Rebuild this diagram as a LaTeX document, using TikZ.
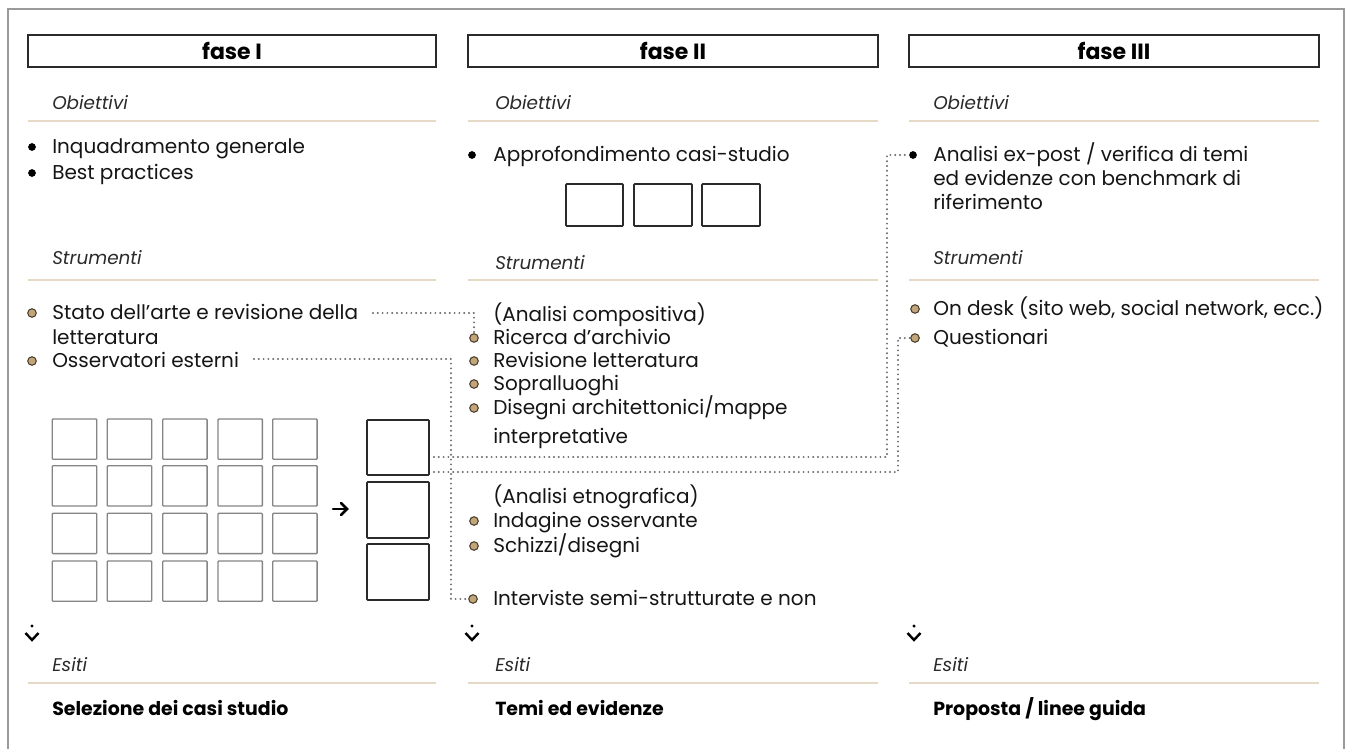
\documentclass[tikz,border=0pt]{standalone}
\usepackage{fontspec}
\setmainfont{Poppins}
\usetikzlibrary{arrows.meta,calc}
\definecolor{textc}{HTML}{151515}
\definecolor{labc}{HTML}{2A2A2A}
\definecolor{rulec}{HTML}{E6DAC6}
\definecolor{framec}{HTML}{9A9A9A}
\definecolor{tanfill}{HTML}{C2A57A}
\definecolor{tanline}{HTML}{4A3C2A}
\definecolor{gridc}{HTML}{858585}
\definecolor{dotcol}{HTML}{6A6A6A}
\tikzset{
  txt/.style={anchor=base west, inner sep=0pt, text=textc, font=\fontsize{15}{18}\selectfont},
  lab/.style={anchor=base west, inner sep=0pt, text=labc, font=\fontsize{13.8}{16}\selectfont\itshape},
  res/.style={anchor=base west, inner sep=0pt, text=black, font=\fontsize{14.2}{16}\selectfont\bfseries},
  headbox/.style={draw=labc, line width=1.2pt, inner sep=0pt, font=\fontsize{16.5}{18}\selectfont\bfseries, text=black},
  rulel/.style={draw=rulec, line width=1.3pt},
  bblack/.style={circle, fill=black, inner sep=0pt, minimum size=5.8pt},
  btan/.style={circle, fill=tanfill, draw=tanline, line width=0.8pt, inner sep=0pt, minimum size=6.4pt},
  gbox/.style={draw=gridc, line width=1pt, rounded corners=0.6pt},
  sbox/.style={draw=labc, line width=1.2pt, rounded corners=0.6pt},
  dotc/.style={draw=dotcol, line width=1.6pt, line cap=round, dash pattern=on 0pt off 3.6pt},
  arr/.style={draw=black, line width=1.9pt, line cap=round, line join=miter},
  chev/.style={draw=black, line width=1.8pt},
}
\begin{document}
\begin{tikzpicture}[x=0.75pt,y=-0.75pt]
\useasboundingbox (0,0) rectangle (1348,749);
\fill[white] (0,0) rectangle (1348,749);
% frame
\draw[framec, line width=1.1pt] (8,749) -- (8,9) -- (1344,9) -- (1344,749);

% headers
\node[headbox, minimum width=306pt, minimum height=24pt] (h1) at (232,51) {fase I};
\node[headbox, minimum width=307.5pt, minimum height=24pt] (h2) at (673,51) {fase II};
\node[headbox, minimum width=307.5pt, minimum height=24pt] (h3) at (1114,51) {fase III};

% rules
\foreach \y in {121,280,683}{
  \draw[rulel] (28,\y) -- (436,\y);
  \draw[rulel] (468,\y) -- (878,\y);
  \draw[rulel] (909,\y) -- (1319,\y);
}

% ---------- column 1
\node[lab] (o1) at (52,109) {Obiettivi};
\node[bblack] (b11) at (32,147) {};
\node[txt] (t11) at (52,153) {Inquadramento generale};
\node[bblack] (b12) at (32,173) {};
\node[txt] (t12) at (52,179) {Best practices};
\node[lab] (s1) at (52,264) {Strumenti};
\node[btan] (b13) at (32,313) {};
\node[txt] (stato) at (52,319) {Stato dell’arte e revisione della};
\node[txt] (lett) at (52,344) {letteratura};
\node[btan] (b14) at (32,361) {};
\node[txt] (oss) at (52,367) {Osservatori esterni};

% grid
\foreach \c/\x in {1/52.3,2/107.3,3/162.7,4/218,5/272.7}{
  \foreach \r/\y in {1/419,2/465.7,3/513.3,4/561}{
    \draw[gbox] (\x,\y) rectangle ++(44.4,40.3) node[coordinate] (g\r\c) {};
  }
}
\draw[sbox] (367,420) rectangle (429,475) node[coordinate] (sel1) {};
\draw[sbox] (367,482) rectangle (429,538) node[coordinate] (sel2) {};
\draw[sbox] (367,544) rectangle (429,600) node[coordinate] (sel3) {};
\coordinate (a1s) at (333,509);
\coordinate (a1e) at (347,509);
\draw[arr] (a1s) -- (a1e);
\draw[arr] ($(a1e)+(-6,-6)$) -- (a1e) -- ($(a1e)+(-6,6)$);

% down marker & esiti col1
\fill (32,626) circle (1.3pt) node[coordinate] (d1) {};
\draw[chev] (25.5,633) -- (32,640) -- (38.5,633);
\node[lab] (e1) at (52,671) {Esiti};
\node[res] (r1) at (52,715) {Selezione dei casi studio};

% ---------- column 2
\node[lab] (o2) at (495,109) {Obiettivi};
\node[bblack] (b21) at (472,155) {};
\node[txt] (t21) at (493,161) {Approfondimento casi-studio};
\draw[sbox] (566,184) rectangle (623,226);
\draw[sbox] (634,184) rectangle (692,226);
\draw[sbox] (702,184) rectangle (760,226);
\node[lab] (s2) at (495,269) {Strumenti};
\node[txt] (t22) at (493,321) {(Analisi compositiva)};
\node[btan] (bric) at (474,338) {};
\node[txt] (t23) at (493,344) {Ricerca d’archivio};
\node[btan] (b24) at (474,361) {};
\node[txt] (t24) at (493,367) {Revisione letteratura};
\node[btan] (b25) at (474,384) {};
\node[txt] (t25) at (493,390) {Sopralluoghi};
\node[btan] (b26) at (474,408) {};
\node[txt] (t26) at (493,414) {Disegni architettonici/mappe};
\node[txt] (t27) at (493,443) {interpretative};
\node[txt] (t28) at (493,503) {(Analisi etnografica)};
\node[btan] (b29) at (474,521) {};
\node[txt] (t29) at (493,527) {Indagine osservante};
\node[btan] (b210) at (474,546) {};
\node[txt] (t210) at (493,552) {Schizzi/disegni};
\node[btan] (bint) at (473,599) {};
\node[txt] (t211) at (493,605) {Interviste semi-strutturate e non};
\fill (472,626) circle (1.3pt) node[coordinate] (d2) {};
\draw[chev] (465.5,633) -- (472,640) -- (478.5,633);
\node[lab] (e2) at (495,671) {Esiti};
\node[res] (r2) at (495,715) {Temi ed evidenze};

% ---------- column 3
\node[lab] (o3) at (933,109) {Obiettivi};
\node[bblack] (bex) at (913,155) {};
\node[txt] (t31) at (933,161) {Analisi ex-post / verifica di temi};
\node[txt] (t32) at (933,185) {ed evidenze con benchmark di};
\node[txt] (t33) at (933,209) {riferimento};
\node[lab] (s3) at (933,264) {Strumenti};
\node[btan] (b34) at (915,309) {};
\node[txt] (t34) at (933,315) {On desk (sito web, social network, ecc.)};
\node[btan] (bq) at (915,338) {};
\node[txt] (t35) at (933,344) {Questionari};
\fill (914,626) circle (1.3pt) node[coordinate] (d3) {};
\draw[chev] (907.5,633) -- (914,640) -- (920.5,633);
\node[lab] (e3) at (933,671) {Esiti};
\node[res] (r3) at (933,715) {Proposta / linee guida};

% ---------- dotted connectors
\coordinate (c1) at (373,313);
\coordinate (c2) at (254,359);
\coordinate (v2) at (451,359);
\coordinate (c3) at (434,457);
\coordinate (v3) at (887,457);
\coordinate (c4) at (434,472);
\coordinate (v4) at (898,472);
\draw[dotc] (c1) -| (bric.north);
\draw[dotc] (c2) -- (v2) |- (bint.west);
\draw[dotc] (c3) -- (v3) |- (bex.west);
\draw[dotc] (c4) -- (v4) |- (bq.west);
\end{tikzpicture}
\end{document}
